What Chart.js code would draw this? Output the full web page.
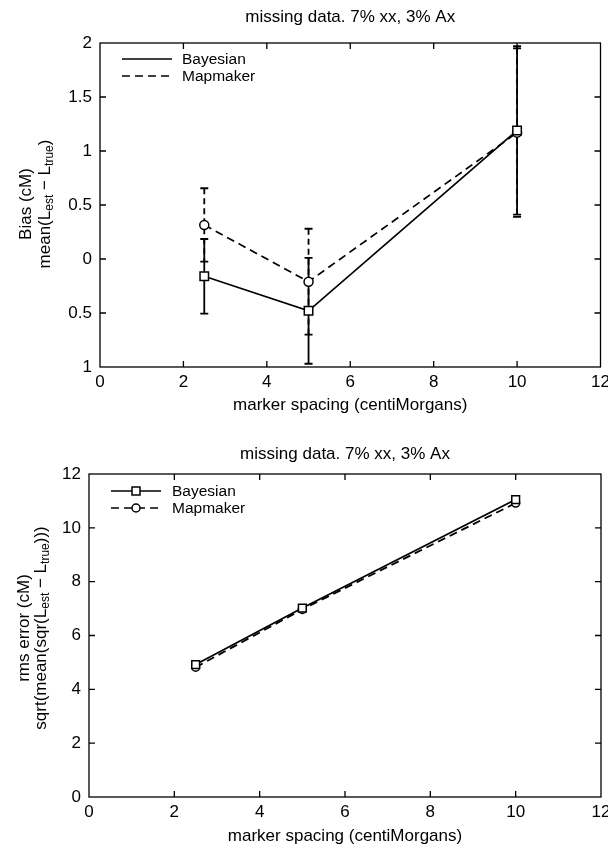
<!DOCTYPE html>
<html>
<head>
<meta charset="utf-8">
<script src="https://cdn.jsdelivr.net/npm/chart.js@4.4.0/dist/chart.umd.min.js"></script>
<style>
  body { margin: 0; background: #fff; }
  .panel { position: absolute; left: 0; width: 608px; height: 425px; }
</style>
</head>
<body>
<div class="panel" style="top:0"><canvas id="biasChart"></canvas></div>
<div class="panel" style="top:425px"><canvas id="rmsChart"></canvas></div>
<script>
// data
const spacing = [2.5, 5, 10];
const biasBayes = [-0.16, -0.48, 1.19];
const biasBayesErr = [0.345, 0.49, 0.78];
const biasMap = [0.315, -0.21, 1.17];
const biasMapErr = [0.34, 0.49, 0.78];
const rmsBayes = [4.92, 7.02, 11.05];
const rmsMap = [4.82, 6.97, 10.92];

const xTicks = [0, 2, 4, 6, 8, 10, 12];
const biasTicks = [-1, -0.5, 0, 0.5, 1, 1.5, 2];
const rmsTicks = [0, 2, 4, 6, 8, 10, 12];
const seriesNames = ['Bayesian', 'Mapmaker'];
const titleText = 'missing data. 7% xx, 3% Ax';
const xLabel = 'marker spacing (centiMorgans)';

const FONT = '"Liberation Sans", Arial, Helvetica, sans-serif';
const TXT = 17;
const DASH = [8, 5];

function pts(ys) {
  return spacing.map((x, i) => ({ x: x, y: ys[i] }));
}

// box round the plot area with inward ticks on all four sides
function drawFrame(chart) {
  const { ctx, chartArea: a, scales } = chart;
  const len = 6;
  ctx.save();
  ctx.strokeStyle = '#000';
  ctx.lineWidth = 1.3;
  ctx.strokeRect(a.left, a.top, a.right - a.left, a.bottom - a.top);
  ctx.beginPath();
  scales.x.ticks.forEach(t => {
    const px = scales.x.getPixelForValue(t.value);
    if (px <= a.left + 1 || px >= a.right - 1) return;
    ctx.moveTo(px, a.bottom); ctx.lineTo(px, a.bottom - len);
    ctx.moveTo(px, a.top); ctx.lineTo(px, a.top + len);
  });
  scales.y.ticks.forEach(t => {
    const py = scales.y.getPixelForValue(t.value);
    if (py <= a.top + 1 || py >= a.bottom - 1) return;
    ctx.moveTo(a.left, py); ctx.lineTo(a.left + len, py);
    ctx.moveTo(a.right, py); ctx.lineTo(a.right - len, py);
  });
  ctx.stroke();
  ctx.restore();
}

function drawErrorBars(chart, ys, errs, dash) {
  const { ctx, scales: { x, y } } = chart;
  ctx.save();
  ctx.strokeStyle = '#000';
  ctx.lineWidth = 1.8;
  spacing.forEach((xv, i) => {
    const px = x.getPixelForValue(xv);
    const top = y.getPixelForValue(ys[i] + errs[i]);
    const bot = y.getPixelForValue(ys[i] - errs[i]);
    ctx.setLineDash(dash);
    ctx.beginPath(); ctx.moveTo(px, top); ctx.lineTo(px, bot); ctx.stroke();
    ctx.setLineDash([]);
    ctx.beginPath();
    ctx.moveTo(px - 4, top); ctx.lineTo(px + 4, top);
    ctx.moveTo(px - 4, bot); ctx.lineTo(px + 4, bot);
    ctx.stroke();
  });
  ctx.restore();
}

// rotated y label, second line has subscripts
function drawYLabel(ctx, cx, cy, gap, line1, parts) {
  ctx.save();
  ctx.translate(cx, cy);
  ctx.rotate(-Math.PI / 2);
  ctx.fillStyle = '#000';
  ctx.textBaseline = 'middle';
  ctx.textAlign = 'center';
  ctx.font = TXT + 'px ' + FONT;
  ctx.fillText(line1, 0, -gap);
  ctx.textAlign = 'left';
  const fontOf = p => (p.sub ? '12px ' : TXT + 'px ') + FONT;
  let total = 0;
  parts.forEach(p => {
    ctx.font = fontOf(p);
    total += ctx.measureText(p.t).width;
  });
  let x = -total / 2;
  parts.forEach(p => {
    ctx.font = fontOf(p);
    ctx.fillText(p.t, x, p.sub ? 5 : 0);
    x += ctx.measureText(p.t).width;
  });
  ctx.restore();
}

function drawLegend(ctx, x0, x1, tx, rows, withMarkers) {
  ctx.save();
  ctx.strokeStyle = '#000';
  ctx.fillStyle = '#000';
  ctx.lineWidth = 1.7;
  ctx.font = '15.5px ' + FONT;
  ctx.textBaseline = 'middle';
  rows.forEach((r, i) => {
    ctx.setLineDash(i === 0 ? [] : DASH);
    ctx.beginPath(); ctx.moveTo(x0, r); ctx.lineTo(x1, r); ctx.stroke();
    ctx.setLineDash([]);
    if (withMarkers) {
      const mx = (x0 + x1) / 2;
      ctx.fillStyle = '#fff';
      ctx.lineWidth = 1.5;
      ctx.beginPath();
      if (i === 0) ctx.rect(mx - 4, r - 4, 8, 8);
      else ctx.arc(mx, r, 4, 0, Math.PI * 2);
      ctx.fill(); ctx.stroke();
      ctx.fillStyle = '#000';
      ctx.lineWidth = 1.7;
    }
    ctx.fillText(seriesNames[i], tx, r + 1);
  });
  ctx.restore();
}

function drawTexts(chart, titleY, labelY) {
  const { ctx, chartArea: a } = chart;
  const mid = (a.left + a.right) / 2;
  ctx.save();
  ctx.fillStyle = '#000';
  ctx.font = TXT + 'px ' + FONT;
  ctx.textAlign = 'center';
  ctx.textBaseline = 'middle';
  ctx.fillText(titleText, mid, titleY);
  ctx.fillText(xLabel, mid, labelY);
  ctx.restore();
}

function baseOptions(area, yMin, yMax, yTicks, tickFmt) {
  return {
    responsive: true,
    maintainAspectRatio: false,
    animation: false,
    events: [],
    layout: { padding: { left: 0, right: 608 - area.right, top: area.top, bottom: 0 } },
    plugins: { legend: { display: false }, tooltip: { enabled: false } },
    scales: {
      x: {
        type: 'linear', min: 0, max: 12,
        afterBuildTicks: s => { s.ticks = xTicks.map(v => ({ value: v })); },
        afterFit: s => { s.height = 425 - area.bottom; s.paddingLeft = 0; s.paddingRight = 0; },
        grid: { display: false, drawTicks: false },
        border: { display: false },
        ticks: { color: '#000', padding: 5, maxRotation: 0, autoSkip: false, font: { family: FONT, size: TXT } }
      },
      y: {
        type: 'linear', min: yMin, max: yMax,
        afterBuildTicks: s => { s.ticks = yTicks.map(v => ({ value: v })); },
        afterFit: s => { s.width = area.left; s.paddingTop = 0; s.paddingBottom = 0; },
        grid: { display: false, drawTicks: false },
        border: { display: false },
        ticks: { color: '#000', padding: 8, autoSkip: false, font: { family: FONT, size: TXT }, callback: tickFmt }
      }
    }
  };
}

// top: bias with error bars
const biasOpts = baseOptions({ left: 100, right: 602, top: 43, bottom: 367 }, -1, 2, biasTicks,
  v => String(Math.abs(v)));

new Chart(document.getElementById('biasChart'), {
  type: 'line',
  data: {
    datasets: [{
      label: seriesNames[0], data: pts(biasBayes),
      borderColor: '#000', borderWidth: 1.7, backgroundColor: '#fff',
      pointStyle: 'rect', pointRadius: 6, pointBorderWidth: 1.5, pointBorderColor: '#000'
    }, {
      label: seriesNames[1], data: pts(biasMap),
      borderColor: '#000', borderWidth: 1.7, borderDash: DASH, backgroundColor: '#fff',
      pointStyle: 'circle', pointRadius: 4.5, pointBorderWidth: 1.5, pointBorderColor: '#000'
    }]
  },
  options: biasOpts,
  plugins: [{
    id: 'biasDecor',
    beforeDatasetsDraw(chart) {
      drawFrame(chart);
      drawErrorBars(chart, biasBayes, biasBayesErr, []);
      drawErrorBars(chart, biasMap, biasMapErr, [6, 4]);
    },
    afterDraw(chart) {
      drawTexts(chart, 17, 405);
      drawLegend(chart.ctx, 122, 172, 182, [59, 76], false);
      drawYLabel(chart.ctx, 45, 204, 19, 'Bias (cM)', [
        { t: 'mean(L' }, { t: 'est', sub: true }, { t: ' \u2212 L' }, { t: 'true', sub: true }, { t: ')' }
      ]);
    }
  }]
});

// bottom: rms error
const rmsOpts = baseOptions({ left: 89, right: 602, top: 49, bottom: 372 }, 0, 12, rmsTicks,
  v => String(v));

new Chart(document.getElementById('rmsChart'), {
  type: 'line',
  data: {
    datasets: [{
      label: seriesNames[0], data: pts(rmsBayes),
      borderColor: '#000', borderWidth: 1.8, backgroundColor: '#fff',
      pointStyle: 'rect', pointRadius: 5.5, pointBorderWidth: 1.5, pointBorderColor: '#000'
    }, {
      label: seriesNames[1], data: pts(rmsMap),
      borderColor: '#000', borderWidth: 1.8, borderDash: DASH, backgroundColor: '#fff',
      pointStyle: 'circle', pointRadius: 4, pointBorderWidth: 1.5, pointBorderColor: '#000'
    }]
  },
  options: rmsOpts,
  plugins: [{
    id: 'rmsDecor',
    beforeDatasetsDraw(chart) { drawFrame(chart); },
    afterDraw(chart) {
      drawTexts(chart, 29, 411);
      drawLegend(chart.ctx, 111, 161, 172, [66, 83], true);
      drawYLabel(chart.ctx, 41, 203, 17, 'rms error (cM)', [
        { t: 'sqrt(mean(sqr(L' }, { t: 'est', sub: true }, { t: ' \u2212 L' }, { t: 'true', sub: true }, { t: ')))' }
      ]);
    }
  }]
});
</script>
</body>
</html>
